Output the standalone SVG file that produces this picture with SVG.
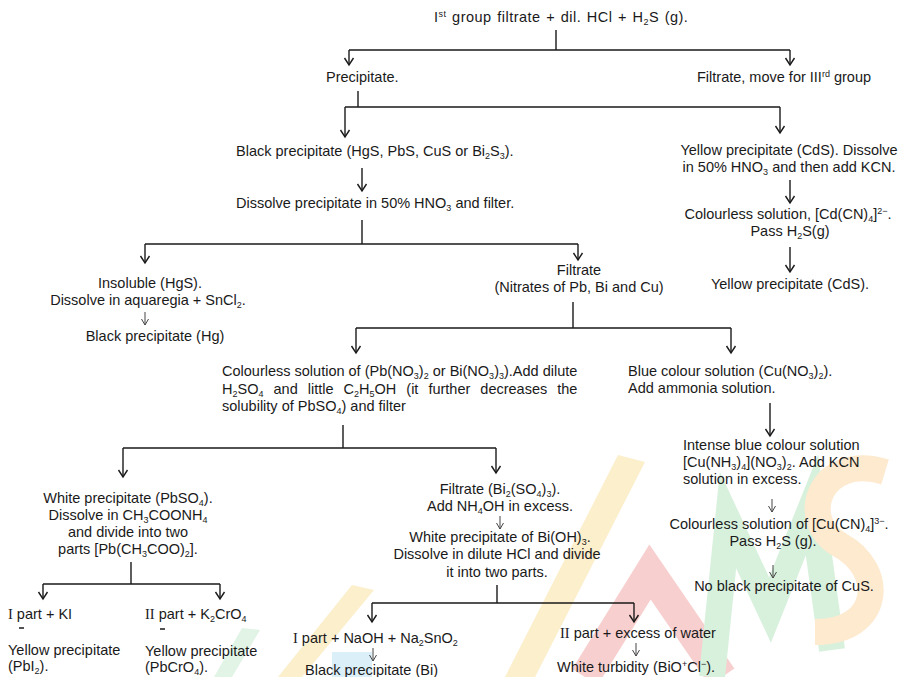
<svg xmlns="http://www.w3.org/2000/svg" width="900" height="677" viewBox="0 0 900 677">
<style>
text{font-family:"Liberation Sans",Arial,sans-serif;font-size:14.5px;fill:#1a1a1a}
.c{text-anchor:middle}
.rm{font-family:"Liberation Serif","Times New Roman",serif}
.s{font-size:9px;baseline-shift:-3px}
.p{font-size:9px;baseline-shift:5px}
.ln{stroke:#1a1a1a;stroke-width:1.4;fill:none}
.th{stroke:#444;stroke-width:1;fill:none;marker-end:url(#ahs)}
.ar{marker-end:url(#ah)}
.wm{fill:none;stroke-linecap:butt;stroke-linejoin:miter}
</style>
<defs>
<marker id="ah" markerUnits="userSpaceOnUse" markerWidth="12" markerHeight="12" viewBox="0 0 12 12" refX="10" refY="6" orient="auto">
<path d="M3,1.5 L10,6 L3,10.5" fill="none" stroke="#1a1a1a" stroke-width="1.4"/>
</marker>
<marker id="ahs" markerUnits="userSpaceOnUse" markerWidth="10" markerHeight="10" viewBox="0 0 10 10" refX="9" refY="5" orient="auto">
<path d="M3,1.5 L9,5 L3,8.5" fill="none" stroke="#444" stroke-width="1"/>
</marker>
</defs>
<rect width="900" height="677" fill="#fff"/>
<g id="watermark" opacity="0.55">
<polygon points="618,455 645,462 535,677 505,677" fill="#fbe2a3"/>
<polygon points="352,585 374,590 302,677 278,677" fill="#fbe2a3"/>
<polygon points="242,628 260,630 232,677 214,677" fill="#c9ebcf"/>
<rect x="332" y="652" width="40" height="25" fill="#bfe3f5"/>
<path class="wm" d="M585,677 L650,572 L722,677" stroke="#f3a9a9" stroke-width="30"/>
<path class="wm" d="M712,677 L728,520 L770,610 L812,505 L832,650" stroke="#b9e6c2" stroke-width="26"/>
<path class="wm" d="M885,472 C820,452 796,520 840,545 C886,570 882,632 815,632" stroke="#fdd9a8" stroke-width="26"/>
</g>
<g id="connectors">
<path class="ln" d="M556,30 V50 M349,50 H790"/>
<path class="ln ar" d="M349,50 V65"/>
<path class="ln ar" d="M790,50 V65"/>
<path class="ln" d="M358,91 V107 M345,107 H780"/>
<path class="ln ar" d="M345,107 V137"/>
<path class="ln ar" d="M780,107 V133"/>
<path class="ln ar" d="M362,168 V191"/>
<path class="ln" d="M362,220 V244 M145,244 H578"/>
<path class="ln ar" d="M145,244 V263"/>
<path class="ln ar" d="M578,244 V260"/>
<path class="ln ar" d="M790,180 V203"/>
<path class="ln ar" d="M790,247 V272"/>
<path class="ln" d="M573,302 V328 M356,328 H731"/>
<path class="ln ar" d="M356,328 V353"/>
<path class="ln ar" d="M731,328 V353"/>
<path class="ln" d="M343,425 V448 M123,448 H496"/>
<path class="ln ar" d="M123,448 V477"/>
<path class="ln ar" d="M496,448 V473"/>
<path class="ln ar" d="M770,403 V436"/>
<path class="ln" d="M131,562 V584 M43,584 H220"/>
<path class="ln ar" d="M43,584 V599"/>
<path class="ln ar" d="M220,584 V599"/>
<path class="ln" d="M497,585 V603 M372,603 H634"/>
<path class="ln ar" d="M372,603 V622"/>
<path class="ln ar" d="M634,603 V622"/>
<path class="ln" d="M19,628 H24 M160,629 H165"/>
<path class="th" d="M145,312 V325"/>
<path class="th" d="M772,499 V512"/>
<path class="th" d="M500,516 V529"/>
<path class="th" d="M773,565 V578"/>
<path class="th" d="M373,648 V661"/>
<path class="th" d="M636,643 V656"/>
</g>
<g id="n-start"><text x="434" y="22" style="letter-spacing:0.5px;word-spacing:1px">I<tspan class="p">st</tspan> group filtrate + dil. HCl + H<tspan class="s">2</tspan>S (g).</text></g>
<g id="n-precipitate"><text x="326" y="82">Precipitate.</text></g>
<g id="n-filtrate-iii"><text x="697" y="82">Filtrate, move for III<tspan class="p">rd</tspan> group</text></g>
<g id="n-black"><text x="236" y="156">Black precipitate (HgS, PbS, CuS or Bi<tspan class="s">2</tspan>S<tspan class="s">3</tspan>).</text></g>
<g id="n-dissolve"><text x="236" y="208">Dissolve precipitate in 50% HNO<tspan class="s">3</tspan> and filter.</text></g>
<g id="n-cds">
<text class="c" x="789" y="155">Yellow precipitate (CdS). Dissolve</text>
<text class="c" x="789" y="172">in 50% HNO<tspan class="s">3</tspan> and then add KCN.</text>
</g>
<g id="n-cdcn">
<text class="c" x="788" y="219">Colourless solution, [Cd(CN)<tspan class="s">4</tspan>]<tspan class="p">2−</tspan>.</text>
<text class="c" x="790" y="236">Pass H<tspan class="s">2</tspan>S(g)</text>
</g>
<g id="n-cds2"><text class="c" x="790" y="289">Yellow precipitate (CdS).</text></g>
<g id="n-hgs">
<text class="c" x="150" y="288">Insoluble (HgS).</text>
<text class="c" x="148" y="305">Dissolve in aquaregia + SnCl<tspan class="s">2</tspan>.</text>
<text class="c" x="155" y="341">Black precipitate (Hg)</text>
</g>
<g id="n-filtrate">
<text class="c" x="579" y="275">Filtrate</text>
<text class="c" x="579" y="292">(Nitrates of Pb, Bi and Cu)</text>
</g>
<g id="n-colourless">
<text x="222" y="376">Colourless solution of (Pb(NO<tspan class="s">3</tspan>)<tspan class="s">2</tspan> or Bi(NO<tspan class="s">3</tspan>)<tspan class="s">3</tspan>).Add dilute</text>
<text x="222" y="394" style="word-spacing:6px">H<tspan class="s">2</tspan>SO<tspan class="s">4</tspan> and little C<tspan class="s">2</tspan>H<tspan class="s">5</tspan>OH (it further decreases the</text>
<text x="222" y="411">solubility of PbSO<tspan class="s">4</tspan>) and filter</text>
</g>
<g id="n-blue">
<text x="628" y="376">Blue colour solution (Cu(NO<tspan class="s">3</tspan>)<tspan class="s">2</tspan>).</text>
<text x="628" y="393">Add ammonia solution.</text>
</g>
<g id="n-intense">
<text x="683" y="450">Intense blue colour solution</text>
<text x="683" y="467">[Cu(NH<tspan class="s">3</tspan>)<tspan class="s">4</tspan>](NO<tspan class="s">3</tspan>)<tspan class="s">2</tspan>. Add KCN</text>
<text x="683" y="484">solution in excess.</text>
</g>
<g id="n-cucn">
<text class="c" x="779" y="529">Colourless solution of [Cu(CN)<tspan class="s">4</tspan>]<tspan class="p">3−</tspan>.</text>
<text class="c" x="773" y="546">Pass H<tspan class="s">2</tspan>S (g).</text>
</g>
<g id="n-nocus"><text class="c" x="784" y="591">No black precipitate of CuS.</text></g>
<g id="n-pbso4">
<text class="c" x="128" y="503">White precipitate (PbSO<tspan class="s">4</tspan>).</text>
<text class="c" x="128" y="520">Dissolve in CH<tspan class="s">3</tspan>COONH<tspan class="s">4</tspan></text>
<text class="c" x="128" y="537">and divide into two</text>
<text class="c" x="128" y="554">parts [Pb(CH<tspan class="s">3</tspan>COO)<tspan class="s">2</tspan>].</text>
</g>
<g id="n-ki">
<text x="8" y="619"><tspan class="rm">I</tspan> part + KI</text>
<text x="8" y="655">Yellow precipitate</text>
<text x="8" y="671">(PbI<tspan class="s">2</tspan>).</text>
</g>
<g id="n-k2cro4">
<text x="145" y="619"><tspan class="rm">II</tspan> part + K<tspan class="s">2</tspan>CrO<tspan class="s">4</tspan></text>
<text x="145" y="656">Yellow precipitate</text>
<text x="145" y="672">(PbCrO<tspan class="s">4</tspan>).</text>
</g>
<g id="n-bi">
<text class="c" x="500" y="494">Filtrate (Bi<tspan class="s">2</tspan>(SO<tspan class="s">4</tspan>)<tspan class="s">3</tspan>).</text>
<text class="c" x="500" y="511">Add NH<tspan class="s">4</tspan>OH in excess.</text>
</g>
<g id="n-bioh">
<text class="c" x="500" y="542">White precipitate of Bi(OH)<tspan class="s">3</tspan>.</text>
<text class="c" x="497" y="559">Dissolve in dilute HCl and divide</text>
<text class="c" x="497" y="577">it into two parts.</text>
</g>
<g id="n-naoh">
<text x="293" y="643"><tspan class="rm">I</tspan> part + NaOH + Na<tspan class="s">2</tspan>SnO<tspan class="s">2</tspan></text>
<text x="305" y="675">Black precipitate (Bi)</text>
</g>
<g id="n-water">
<text x="560" y="638"><tspan class="rm">II</tspan> part + excess of water</text>
<text x="557" y="672">White turbidity (BiO<tspan class="p">+</tspan>Cl<tspan class="p">−</tspan>).</text>
</g>
</svg>
